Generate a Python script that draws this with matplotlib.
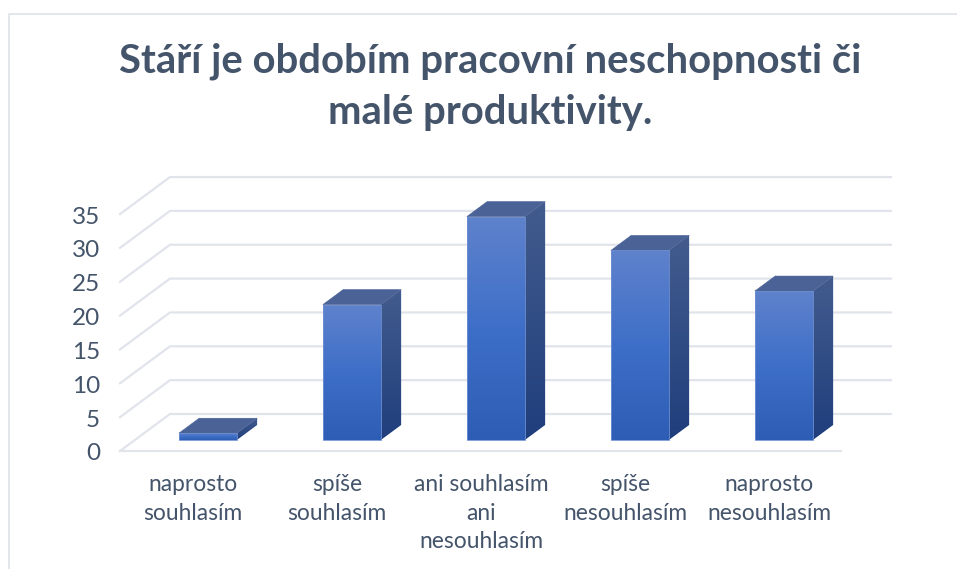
import numpy as np
import matplotlib
matplotlib.use("Agg")
import matplotlib.pyplot as plt
from matplotlib.colors import LinearSegmentedColormap
from matplotlib.patches import Polygon

title = "Stáří je obdobím pracovní neschopnosti či\nmalé produktivity."
categories = ["naprosto\nsouhlasím", "spíše\nsouhlasím", "ani souhlasím\nani\nnesouhlasím",
              "spíše\nnesouhlasím", "naprosto\nnesouhlasím"]
values = [1, 20, 33, 28, 22]
ticks = [0, 5, 10, 15, 20, 25, 30, 35]

W, H = 957, 569
PX_CAT = 144.0
PX_VAL = 6.77
X0, Y0 = 193.0, 451.0
DX = 50.0 / PX_CAT      # full floor depth in data units
DY = 37.0 / PX_VAL
TEXT = "#44546A"
GRID = "#E1E4EB"

plt.rcParams["font.family"] = ["Lato", "DejaVu Sans"]
fig = plt.figure(figsize=(W / 100, H / 100), dpi=100)
ax = fig.add_axes([0, 0, 1, 1])
ax.set_xlim(-X0 / PX_CAT, (W - X0) / PX_CAT)
ax.set_ylim((Y0 - H) / PX_VAL, Y0 / PX_VAL)
ax.axis("off")


def proj(c, v, d):
    return c + d * DX, v + d * DY


# grid
xl, xr = -0.507, 4.5
for t in ticks:
    p0 = proj(xl, t, 0)
    p1 = proj(xl, t, 1)
    p2 = proj(xr, t, 1)
    if t == 0:
        ax.plot([p0[0], proj(xr, 0, 0)[0]], [p0[1], p0[1]], color=GRID, lw=1.6, zorder=1)
    ax.plot([p0[0], p1[0], p2[0]], [p0[1], p1[1], p2[1]], color=GRID, lw=1.6, zorder=1,
            solid_joinstyle="miter")
    ax.text(p0[0] - 20 / PX_CAT, p0[1] - 1 / PX_VAL, str(t), ha="right", va="center_baseline",
            fontsize=17.5, color=TEXT)

# bars
front_cmap = LinearSegmentedColormap.from_list("f", ["#5F82CC", "#3E6FC8", "#2D5DB4"])
side_cmap = LinearSegmentedColormap.from_list("s", ["#435C8E", "#1F3E7C"])
grad = np.linspace(0, 1, 256).reshape(-1, 1)
hw = 29 / PX_CAT
d0, d1 = 11 / 37, 26 / 37
for i, v in enumerate(values):
    fl, fr = i - hw, i + hw
    bx, by = proj(0, 0, d0)
    ex, ey = proj(0, 0, d1)
    front = [(fl + bx, by), (fr + bx, by), (fr + bx, v + by), (fl + bx, v + by)]
    side = [(fr + bx, by), (fr + ex, ey), (fr + ex, v + ey), (fr + bx, v + by)]
    top = [(fl + bx, v + by), (fr + bx, v + by), (fr + ex, v + ey), (fl + ex, v + ey)]
    im = ax.imshow(grad, cmap=front_cmap, aspect="auto", zorder=3,
                   extent=[fl + bx, fr + bx, by, v + by], origin="upper")
    pf = Polygon(front, closed=True, transform=ax.transData, fc="none", ec="#6F90D2", lw=0.6, zorder=3.2)
    ax.add_patch(pf)
    im.set_clip_path(pf)
    im2 = ax.imshow(grad, cmap=side_cmap, aspect="auto", zorder=3,
                    extent=[fr + bx, fr + ex, by, v + ey], origin="upper")
    ps = Polygon(side, closed=True, transform=ax.transData, fc="none", ec="none", zorder=3.1)
    ax.add_patch(ps)
    im2.set_clip_path(ps)
    ax.add_patch(Polygon(top, closed=True, fc="#4A6296", ec="#4A6296", lw=0.4, zorder=3.1))

ax.set_xlim(-X0 / PX_CAT, (W - X0) / PX_CAT)
ax.set_ylim((Y0 - H) / PX_VAL, Y0 / PX_VAL)

# category labels
for i, lab in enumerate(categories):
    ax.text(i, (Y0 - 474) / PX_VAL, lab, ha="center", va="top",
            fontsize=16.4, color=TEXT, linespacing=1.45)

# title
fig.text(490 / W, 1 - 87 / H, title, ha="center", va="center", fontsize=28.8,
         fontweight="bold", color=TEXT, linespacing=1.48)

# chart frame
fig.add_artist(plt.Line2D([9 / W, 9 / W, 957 / W], [0, 1 - 14 / H, 1 - 14 / H], color=GRID, lw=1.3,
                          transform=fig.transFigure))

fig.savefig("out.png", dpi=100)
